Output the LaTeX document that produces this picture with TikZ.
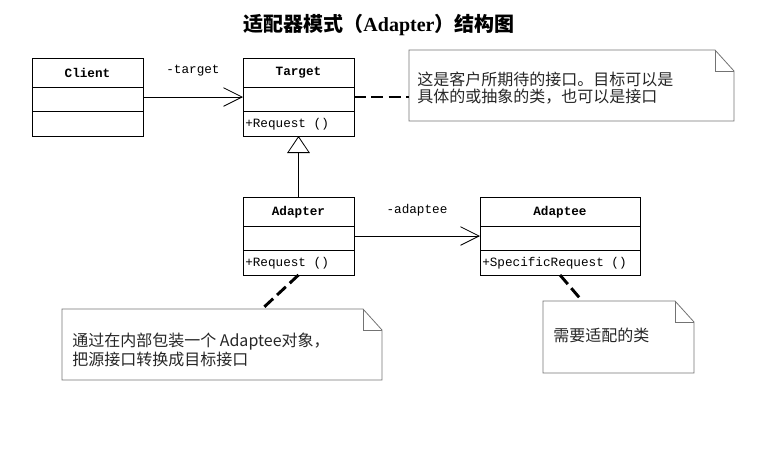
\documentclass[tikz,border=0pt]{standalone}
\usepackage{fontspec}
\setmainfont{Liberation Mono}
\newfontfamily\cjk{Noto Sans CJK SC}
\newfontfamily\titlelatin{Liberation Serif}
\usetikzlibrary{arrows.meta,calc}

\begin{document}
\begin{tikzpicture}[x=0.75pt,y=-0.75pt,
  classbox/.style={draw,line width=0.6pt,anchor=north west,inner sep=0pt,outer sep=0pt,minimum height=58.5pt},
  clsname/.style={font=\fontsize{9.5}{11}\selectfont\bfseries,inner sep=0pt},
  clsop/.style={font=\fontsize{9.5}{11}\selectfont,anchor=west,inner sep=0pt},
  lbl/.style={font=\fontsize{9.5}{11}\selectfont,inner sep=0pt},
  assoc/.style={line width=0.6pt,-{Straight Barb[length=14pt,width=14pt,line width=0.6pt]}},
  notebox/.style={anchor=north west,inner sep=0pt,outer sep=0pt},
  noteline/.style={draw=black!55,line width=0.6pt},
  notetext/.style={font=\cjk\fontsize{12}{12.2}\selectfont,text=black!85,align=left,anchor=west,inner sep=0pt},
  anchorline/.style={line width=2.2pt,dash pattern=on 9pt off 4pt}]
  \useasboundingbox (0,0) rectangle (758,451);
  \node[font=\cjk\bfseries\fontsize{15}{16}\selectfont] (title) at (379,25)
    {适配器模式（{\titlelatin\bfseries Adapter}）结构图};
  % classes: name/x/y/width/title/operation
  \foreach \nm/\xx/\yy/\ww/\ttl/\op in {client/32/58/111/Client/{},target/243/58/111/Target/+Request (),
      adapter/243/197/111/Adapter/+Request (),adaptee/480/197/160/Adaptee/+SpecificRequest ()}{
    \node[classbox,minimum width=\ww*0.75pt] (\nm) at (\xx,\yy) {};
    \draw[line width=0.6pt] ($(\nm.north west)+(0,29)$) -- ($(\nm.north east)+(0,29)$);
    \draw[line width=0.6pt] ($(\nm.north west)+(0,53)$) -- ($(\nm.north east)+(0,53)$);
    \node[clsname] (\nm-name) at ($(\nm.north)+(0,15)$) {\ttl};
    \node[clsop] (\nm-op) at ($(\nm.north west)+(2,66)$) {\op};
  }
  % notes
  \node[notebox,minimum width=243.75pt,minimum height=53.25pt] (noteA) at (409,50) {};
  \node[notebox,minimum width=240pt,minimum height=53.25pt] (noteB) at (62,309) {};
  \node[notebox,minimum width=113.25pt,minimum height=54pt] (noteC) at (543,301) {};
  \foreach \nt in {noteA,noteB,noteC}{
    \draw[noteline] (\nt.north west) -- ($(\nt.north east)+(-19,0)$) -- ($(\nt.north east)+(0,21)$)
      -- (\nt.south east) -- (\nt.south west) -- cycle;
    \draw[noteline] ($(\nt.north east)+(-19,0)$) -- ++(0,21) -- ($(\nt.north east)+(0,21)$);
  }
  \node[notetext] (noteAtext) at ($(noteA.west)+(8,2.5)$) {这是客户所期待的接口。目标可以是\\具体的或抽象的类，也可以是接口};
  \node[notetext] (noteBtext) at ($(noteB.west)+(10,5.5)$) {通过在内部包装一个 Adaptee对象，\\把源接口转换成目标接口};
  \node[notetext] (noteCtext) at ($(noteC.west)+(10,-2)$) {需要适配的类};
  % relations
  \draw[assoc] (client) -- (target) node[lbl,midway,yshift=20pt] (tgtlbl) {-target};
  \draw[assoc] (adapter) -- (adaptee) node[lbl,midway,yshift=19.5pt] (adplbl) {-adaptee};
  \draw[line width=0.6pt,-{Triangle[open,length=12.75pt,width=17pt,line width=0.6pt]}] (adapter) -- (target);
  \draw[anchorline] (target.east) -- (target.east -| noteA.west);
  \draw[anchorline] (adapter.south) -- ($(noteB.north west)!0.625!(noteB.north east)$);
  \draw[anchorline] (adaptee.south) -- ($(noteC.north west)!0.26!(noteC.north east)$);
\end{tikzpicture}
\end{document}
